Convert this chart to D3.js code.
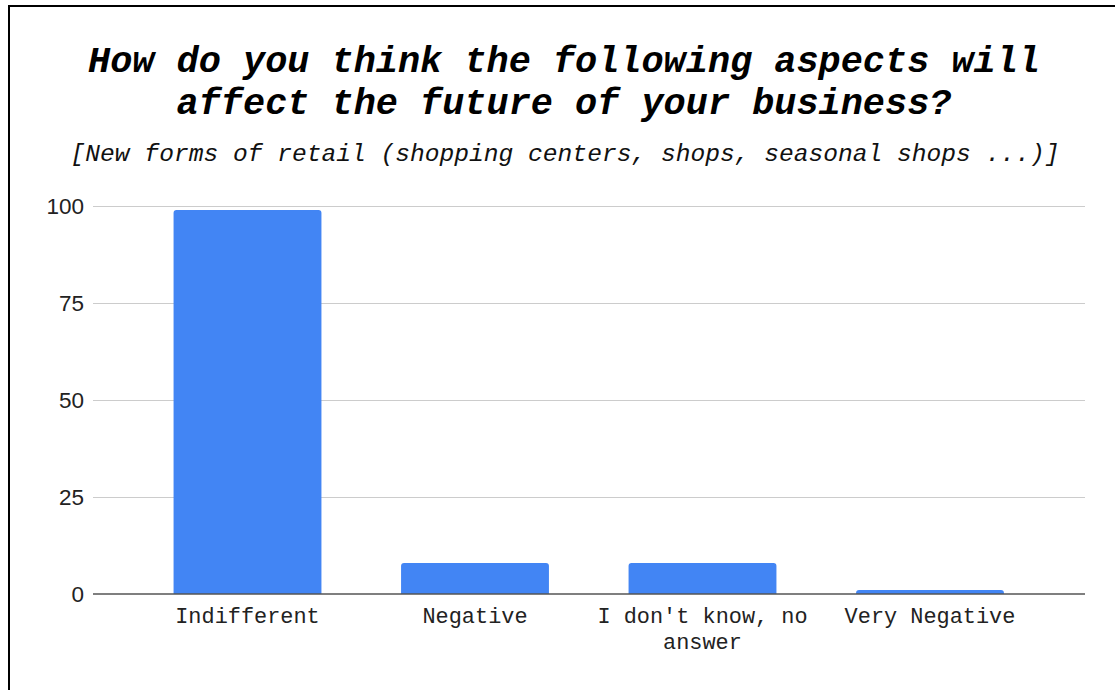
<!DOCTYPE html>
<html>
<head>
<meta charset="utf-8">
<script src="https://cdn.jsdelivr.net/npm/d3@7"></script>
<style>
  html, body { margin: 0; padding: 0; background: #fff; }
  svg { display: block; }
</style>
</head>
<body>
<svg id="chart" width="1115" height="690"></svg>
<script>
// Survey answers for "New forms of retail"
const categories = ["Indifferent", "Negative", "I don't know, no answer", "Very Negative"];
const categoryLines = [["Indifferent"], ["Negative"], ["I don't know, no", "answer"], ["Very Negative"]];
const counts = [99, 8, 8, 1];
const yTicks = [0, 25, 50, 75, 100];
const titleLines = ["How do you think the following aspects will", "affect the future of your business?"];
const subtitle = "[New forms of retail (shopping centers, shops, seasonal shops ...)]";

const svg = d3.select("#chart");
const W = 1115, H = 690;
const mono = "'Liberation Mono', 'Courier New', monospace";
const sans = "'Liberation Sans', Arial, sans-serif";

svg.append("rect").attr("width", W).attr("height", H).attr("fill", "#fff");

// frame (left and top edges visible)
svg.append("path")
  .attr("d", `M9,${H} L9,6 L${W},6`)
  .attr("fill", "none").attr("stroke", "#000").attr("stroke-width", 2);

const plot = { left: 93, right: 1085, top: 206, bottom: 594 };

const x = d3.scaleBand()
  .domain(categories)
  .range([133.75, 1043.75])
  .paddingInner(0.35)
  .paddingOuter(0.175);

const y = d3.scaleLinear()
  .domain([0, 100])
  .range([plot.bottom, plot.top]);

// title
const title = svg.append("text")
  .attr("text-anchor", "middle")
  .attr("font-family", mono)
  .attr("font-weight", "bold")
  .attr("font-style", "italic")
  .attr("font-size", 36.9)
  .attr("fill", "#000");
titleLines.forEach((t, i) => {
  title.append("tspan").attr("x", 564).attr("y", 72 + i * 42).text(t);
});

svg.append("text")
  .attr("x", 565).attr("y", 161)
  .attr("text-anchor", "middle")
  .attr("font-family", mono)
  .attr("font-style", "italic")
  .attr("font-size", 24.6)
  .attr("fill", "#111")
  .text(subtitle);

// gridlines + y labels
const yAxis = d3.axisLeft(y)
  .tickValues(yTicks)
  .tickSize(-(plot.right - plot.left))
  .tickPadding(9);

const gy = svg.append("g")
  .attr("transform", `translate(${plot.left},0)`)
  .call(yAxis);
gy.select(".domain").remove();
gy.selectAll(".tick line")
  .attr("stroke", d => d === 0 ? "none" : "#cccccc")
  .attr("stroke-width", 1.2);
gy.selectAll(".tick text")
  .attr("font-family", sans)
  .attr("font-size", 22.5)
  .attr("fill", "#222");

// bars with rounded top corners
const r = 3;
const barPath = (d, i) => {
  const x0 = x(categories[i]), w = x.bandwidth();
  const yt = y(d), yb = y(0);
  const rr = Math.min(r, (yb - yt));
  return `M${x0},${yb} L${x0},${yt + rr} Q${x0},${yt} ${x0 + rr},${yt} ` +
         `L${x0 + w - rr},${yt} Q${x0 + w},${yt} ${x0 + w},${yt + rr} L${x0 + w},${yb} Z`;
};
svg.append("g").selectAll("path")
  .data(counts)
  .join("path")
  .attr("d", barPath)
  .attr("fill", "#4285f4");

// baseline
svg.append("line")
  .attr("x1", plot.left).attr("x2", plot.right)
  .attr("y1", y(0)).attr("y2", y(0))
  .attr("stroke", "#555").attr("stroke-width", 1.6);

// x category labels
const xl = svg.append("g").selectAll("text")
  .data(categories)
  .join("text")
  .attr("text-anchor", "middle")
  .attr("font-family", mono)
  .attr("font-size", 21.9)
  .attr("fill", "#222");
xl.each(function (c, i) {
  const cx = x(c) + x.bandwidth() / 2;
  categoryLines[i].forEach((line, j) => {
    d3.select(this).append("tspan")
      .attr("x", cx).attr("y", 623 + j * 26)
      .text(line);
  });
});
</script>
</body>
</html>
